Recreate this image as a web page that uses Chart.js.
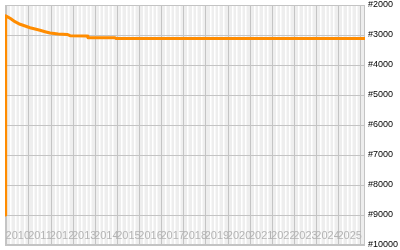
<!DOCTYPE html>
<html>
<head>
<meta charset="utf-8">
<script src="https://cdn.jsdelivr.net/npm/chart.js@4/dist/chart.umd.min.js"></script>
<style>
  html, body { margin: 0; padding: 0; background: #fff; }
  .chart-container { position: relative; width: 400px; height: 250px; }
</style>
</head>
<body>
<div class="chart-container"><canvas id="rankChart"></canvas></div>
<script>
// x axis: one label per year, placed in the middle of the year band
const yearLabels = [2010, 2011, 2012, 2013, 2014, 2015, 2016, 2017, 2018, 2019, 2020, 2021, 2022, 2023, 2024, 2025];
const lastYearLine = 2026;
const xMin = 2009.92;
const xMax = 2026.19;

// y axis: rank, best rank on top
const rankTicks = [2000, 3000, 4000, 5000, 6000, 7000, 8000, 9000, 10000];

// series (decimal year -> rank)
const dates = [2009.925, 2009.94, 2009.96, 2010.15, 2010.37, 2010.6, 2010.83, 2011.05, 2011.28, 2011.5, 2011.73, 2011.96, 2012.32, 2012.73, 2012.86, 2013.63, 2013.67, 2014.9, 2014.94, 2020.0, 2026.19];
const ranks = [8300, 9000, 2360, 2443, 2557, 2643, 2700, 2757, 2800, 2843, 2890, 2933, 2967, 2980, 3023, 3030, 3090, 3095, 3117, 3117, 3117];

const points = dates.map((d, i) => ({ x: d, y: ranks[i] }));

// plot background + frame
const plotBackground = {
  id: 'plotBackground',
  beforeDraw(chart) {
    const { ctx, chartArea: a } = chart;
    ctx.save();
    ctx.fillStyle = '#eeeeee';
    ctx.fillRect(a.left, a.top, a.right - a.left, a.bottom - a.top);
    ctx.restore();
  },
  beforeDatasetsDraw(chart) {
    const { ctx, chartArea: a } = chart;
    ctx.save();
    ctx.strokeStyle = '#c4c4c4';
    ctx.lineWidth = 1;
    ctx.strokeRect(Math.round(a.left) + 0.5, Math.round(a.top) + 0.5, Math.round(a.right - a.left) - 1, Math.round(a.bottom - a.top) - 1);
    ctx.restore();
  }
};

function isYearLine(v) {
  return Math.abs(v - Math.round(v)) < 1e-6;
}
function isLabelTick(v) {
  return Math.abs(v - Math.floor(v) - 0.5) < 1e-6;
}

new Chart(document.getElementById('rankChart'), {
  type: 'line',
  data: {
    datasets: [{
      data: points,
      borderColor: '#ff8c00',
      borderWidth: 3,
      borderJoinStyle: 'round',
      pointRadius: 0,
      tension: 0,
      fill: false
    }]
  },
  options: {
    responsive: true,
    maintainAspectRatio: false,
    animation: false,
    layout: { padding: { left: 5, top: 5, right: 0, bottom: 0 } },
    plugins: {
      legend: { display: false },
      tooltip: { enabled: false }
    },
    scales: {
      x: {
        type: 'linear',
        min: xMin,
        max: xMax,
        afterBuildTicks(scale) {
          const ticks = [];
          yearLabels.forEach(y => {
            ticks.push({ value: y });
            ticks.push({ value: y + 0.2 });
            ticks.push({ value: y + 0.4 });
            ticks.push({ value: y + 0.5 });
            ticks.push({ value: y + 0.6 });
            ticks.push({ value: y + 0.8 });
          });
          ticks.push({ value: lastYearLine });
          scale.ticks = ticks;
        },
        afterFit(scale) {
          scale.height = 5;
          scale.paddingLeft = 0;
          scale.paddingRight = 0;
        },
        border: { display: false },
        grid: {
          drawTicks: false,
          color: ctx => {
            const v = ctx.tick ? ctx.tick.value : 0;
            if (isYearLine(v)) return '#c4c4c4';
            if (isLabelTick(v)) return 'rgba(0,0,0,0)';
            return '#ffffff';
          },
          lineWidth: ctx => {
            const v = ctx.tick ? ctx.tick.value : 0;
            return isYearLine(v) ? 1 : 1.5;
          }
        },
        ticks: {
          autoSkip: false,
          maxRotation: 0,
          minRotation: 0,
          mirror: true,   // labels sit inside the plot, above the bottom edge
          padding: 2,
          color: '#b4b4b4',
          font: { family: 'Liberation Sans', size: 11 },
          callback: v => isLabelTick(v) ? String(Math.floor(v)) : ''
        }
      },
      y: {
        type: 'linear',
        position: 'right',
        reverse: true,
        min: 2000,
        max: 10000,
        afterBuildTicks(scale) {
          scale.ticks = rankTicks.map(v => ({ value: v }));
        },
        afterFit(scale) {
          scale.width = 35;
          scale.paddingTop = 0;
          scale.paddingBottom = 0;
        },
        border: { display: false },
        grid: {
          drawTicks: false,
          color: '#c4c4c4',
          lineWidth: 1
        },
        ticks: {
          padding: 3,
          color: '#000000',
          font: { family: 'Liberation Sans', size: 9 },
          callback: v => '#' + v
        }
      }
    }
  },
  plugins: [plotBackground]
});
</script>
</body>
</html>
